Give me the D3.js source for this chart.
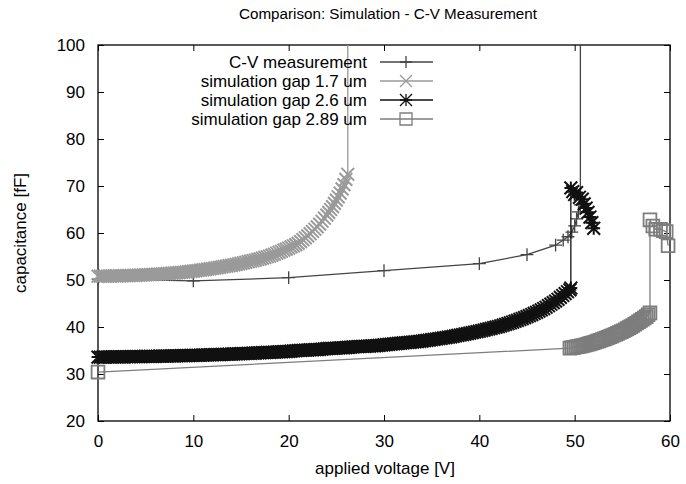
<!DOCTYPE html>
<html>
<head>
<meta charset="utf-8">
<script src="https://cdn.jsdelivr.net/npm/d3@7"></script>
<style>
  body { margin: 0; background: #fff; }
  text { font-family: "Liberation Sans", Arial, Helvetica, sans-serif; fill: #000; }
</style>
</head>
<body>
<svg id="chart"></svg>
<script>
// donnees
const seriesNames = ["C-V measurement", "simulation gap 1.7 um", "simulation gap 2.6 um", "simulation gap 2.89 um"];
const xTicks = [0, 10, 20, 30, 40, 50, 60];
const yTicks = [20, 30, 40, 50, 60, 70, 80, 90, 100];

// mesure C-V (le dernier point sort du cadre)
const voltMeas = [0, 10, 20, 30, 40, 45, 48, 48.8, 49.3, 49.7, 50.0, 50.2, 50.4, 50.6, 50.6];
const capMeas = [50.2, 49.8, 50.5, 52.0, 53.5, 55.4, 57.4, 58.5, 59.2, 60.2, 61.5, 63.0, 64.5, 66.0, 130];

// simulation gap 1.7 um (pas de 0.25 V puis 0.2 V)
const volt17 = [
  0, 0.25, 0.5, 0.75, 1, 1.25, 1.5, 1.75, 2, 2.25, 2.5, 2.75, 3, 3.25, 3.5, 3.75,
  4, 4.25, 4.5, 4.75, 5, 5.25, 5.5, 5.75, 6, 6.25, 6.5, 6.75, 7, 7.25, 7.5, 7.75,
  8, 8.25, 8.5, 8.75, 9, 9.25, 9.5, 9.75, 10, 10.25, 10.5, 10.75, 11, 11.25, 11.5, 11.75,
  12, 12.25, 12.5, 12.75, 13, 13.25, 13.5, 13.75, 14, 14.25, 14.5, 14.75, 15, 15.25, 15.5, 15.75,
  16, 16.25, 16.5, 16.75, 17, 17.25, 17.5, 17.75, 18, 18.25, 18.5, 18.75, 19, 19.25, 19.5, 19.75,
  20, 20.25, 20.5, 20.75, 21, 21.25, 21.5, 21.75, 22, 22.25, 22.5, 22.75, 23, 23.25, 23.5, 23.75,
  24, 24.2, 24.4, 24.6, 24.8, 25.0, 25.2, 25.4, 25.6, 25.8, 26.0, 26.2, 26.2];
const cap17 = [
  50.80, 50.81, 50.81, 50.82, 50.83, 50.84, 50.85, 50.86, 50.87, 50.88, 50.90, 50.91, 50.93, 50.95, 50.96, 50.98,
  51.00, 51.02, 51.04, 51.07, 51.09, 51.12, 51.14, 51.17, 51.20, 51.23, 51.26, 51.30, 51.33, 51.37, 51.40, 51.44,
  51.48, 51.52, 51.56, 51.61, 51.65, 51.71, 51.77, 51.84, 51.90, 51.96, 52.02, 52.09, 52.15, 52.22, 52.30, 52.37,
  52.45, 52.53, 52.61, 52.70, 52.78, 52.87, 52.95, 53.04, 53.13, 53.23, 53.34, 53.44, 53.55, 53.66, 53.77, 53.89,
  54.00, 54.12, 54.25, 54.37, 54.50, 54.65, 54.80, 54.95, 55.10, 55.29, 55.48, 55.69, 55.90, 56.12, 56.35, 56.57,
  56.80, 57.04, 57.28, 57.53, 57.80, 58.18, 58.57, 58.98, 59.40, 59.85, 60.32, 60.80, 61.30, 61.90, 62.50, 63.15,
  63.80, 64.40, 65.00, 65.60, 66.30, 67.00, 67.70, 68.50, 69.40, 70.30, 71.40, 72.50, 130];

// simulation gap 2.6 um (pas de 0.25 V)
const volt26 = [
  0, 0.25, 0.5, 0.75, 1, 1.25, 1.5, 1.75, 2, 2.25, 2.5, 2.75, 3, 3.25, 3.5, 3.75,
  4, 4.25, 4.5, 4.75, 5, 5.25, 5.5, 5.75, 6, 6.25, 6.5, 6.75, 7, 7.25, 7.5, 7.75,
  8, 8.25, 8.5, 8.75, 9, 9.25, 9.5, 9.75, 10, 10.25, 10.5, 10.75, 11, 11.25, 11.5, 11.75,
  12, 12.25, 12.5, 12.75, 13, 13.25, 13.5, 13.75, 14, 14.25, 14.5, 14.75, 15, 15.25, 15.5, 15.75,
  16, 16.25, 16.5, 16.75, 17, 17.25, 17.5, 17.75, 18, 18.25, 18.5, 18.75, 19, 19.25, 19.5, 19.75,
  20, 20.25, 20.5, 20.75, 21, 21.25, 21.5, 21.75, 22, 22.25, 22.5, 22.75, 23, 23.25, 23.5, 23.75,
  24, 24.25, 24.5, 24.75, 25, 25.25, 25.5, 25.75, 26, 26.25, 26.5, 26.75, 27, 27.25, 27.5, 27.75,
  28, 28.25, 28.5, 28.75, 29, 29.25, 29.5, 29.75, 30, 30.25, 30.5, 30.75, 31, 31.25, 31.5, 31.75,
  32, 32.25, 32.5, 32.75, 33, 33.25, 33.5, 33.75, 34, 34.25, 34.5, 34.75, 35, 35.25, 35.5, 35.75,
  36, 36.25, 36.5, 36.75, 37, 37.25, 37.5, 37.75, 38, 38.25, 38.5, 38.75, 39, 39.25, 39.5, 39.75,
  40, 40.25, 40.5, 40.75, 41, 41.25, 41.5, 41.75, 42, 42.25, 42.5, 42.75, 43, 43.25, 43.5, 43.75,
  44, 44.25, 44.5, 44.75, 45, 45.25, 45.5, 45.75, 46, 46.25, 46.5, 46.75, 47, 47.25, 47.5, 47.75,
  48, 48.25, 48.5, 48.75, 49, 49.25, 49.5, 49.6,
  49.6, 49.8, 50.0, 50.2, 50.5, 50.8, 51.0, 51.2, 51.4, 51.6, 51.8, 52.0];
const cap26 = [
  33.60, 33.60, 33.61, 33.61, 33.62, 33.62, 33.63, 33.63, 33.64, 33.65, 33.65, 33.66, 33.67, 33.67, 33.68, 33.69,
  33.70, 33.71, 33.71, 33.72, 33.73, 33.74, 33.75, 33.76, 33.77, 33.78, 33.79, 33.80, 33.81, 33.82, 33.83, 33.84,
  33.86, 33.87, 33.88, 33.89, 33.91, 33.92, 33.93, 33.95, 33.96, 33.98, 33.99, 34.01, 34.02, 34.04, 34.06, 34.07,
  34.09, 34.11, 34.12, 34.14, 34.16, 34.18, 34.20, 34.22, 34.24, 34.26, 34.28, 34.30, 34.32, 34.34, 34.36, 34.39,
  34.41, 34.43, 34.46, 34.48, 34.51, 34.53, 34.56, 34.58, 34.61, 34.63, 34.65, 34.68, 34.70, 34.73, 34.75, 34.78,
  34.80, 34.85, 34.90, 34.95, 35.00, 35.02, 35.05, 35.07, 35.10, 35.13, 35.15, 35.18, 35.20, 35.25, 35.30, 35.35,
  35.40, 35.43, 35.45, 35.48, 35.50, 35.53, 35.55, 35.58, 35.60, 35.65, 35.70, 35.75, 35.80, 35.83, 35.85, 35.88,
  35.90, 35.93, 35.95, 35.98, 36.00, 36.05, 36.10, 36.15, 36.20, 36.25, 36.30, 36.35, 36.40, 36.45, 36.50, 36.55,
  36.60, 36.65, 36.70, 36.75, 36.80, 36.85, 36.90, 36.95, 37.00, 37.08, 37.15, 37.23, 37.30, 37.38, 37.45, 37.53,
  37.60, 37.68, 37.75, 37.83, 37.90, 38.00, 38.10, 38.20, 38.30, 38.40, 38.50, 38.60, 38.70, 38.80, 38.90, 39.00,
  39.10, 39.23, 39.35, 39.48, 39.60, 39.73, 39.85, 39.98, 40.10, 40.25, 40.40, 40.55, 40.70, 40.88, 41.05, 41.23,
  41.40, 41.60, 41.80, 42.00, 42.20, 42.43, 42.65, 42.88, 43.10, 43.38, 43.65, 43.93, 44.20, 44.53, 44.85, 45.18,
  45.50, 45.90, 46.30, 46.70, 47.10, 47.50, 47.90, 48.30,
  69.6, 68.8, 68.2, 68.6, 67.6, 67.2, 66.2, 65.3, 64.4, 63.4, 62.2, 61.0];

// simulation gap 2.89 um (pas de 0.2 V)
const volt289 = [0,
  49.5, 49.7, 49.9, 50.1, 50.3, 50.5, 50.7, 50.9, 51.1, 51.3, 51.5, 51.7, 51.9, 52.1, 52.3, 52.5,
  52.7, 52.9, 53.1, 53.3, 53.5, 53.7, 53.9, 54.1, 54.3, 54.5, 54.7, 54.9, 55.1, 55.3, 55.5, 55.7,
  55.9, 56.1, 56.3, 56.5, 56.7, 56.9, 57.1, 57.3, 57.5, 57.7, 57.9,
  57.9, 58.2, 58.5, 59.0, 59.3, 59.6, 59.8];
const cap289 = [30.4,
  35.50, 35.58, 35.66, 35.74, 35.82, 35.90, 35.98, 36.06, 36.16, 36.28, 36.40, 36.52, 36.64, 36.77, 36.91, 37.05,
  37.19, 37.33, 37.48, 37.64, 37.80, 37.96, 38.12, 38.29, 38.47, 38.65, 38.83, 39.01, 39.21, 39.43, 39.65, 39.87,
  40.09, 40.33, 40.59, 40.85, 41.11, 41.37, 41.64, 41.92, 42.20, 42.60, 43.00,
  62.8, 61.5, 60.8, 60.8, 60.5, 60.3, 57.3];

const allVolt = [voltMeas, volt17, volt26, volt289];
const allCap = [capMeas, cap17, cap26, cap289];
const colors = ["#444", "#9a9a9a", "#111", "#7d7d7d"];
const symbols = ["plus", "cross", "star", "square"];
const markWidth = [1.3, 2, 2, 1.8];

const width = 686, height = 484;
const margin = { top: 45, right: 16, bottom: 63, left: 98 };

const svg = d3.select("#chart").attr("width", width).attr("height", height);

const x = d3.scaleLinear().domain([0, 60]).range([margin.left, width - margin.right]);
const y = d3.scaleLinear().domain([20, 100]).range([height - margin.bottom, margin.top]);

svg.append("clipPath").attr("id", "plotClip")
  .append("rect")
  .attr("x", margin.left).attr("y", margin.top)
  .attr("width", x(60) - x(0)).attr("height", y(20) - y(100));

// forme des symboles (gnuplot)
function symbolPath(type, cx, cy, s) {
  const p = d3.path();
  if (type === "plus" || type === "star") {
    p.moveTo(cx - s, cy); p.lineTo(cx + s, cy);
    p.moveTo(cx, cy - s); p.lineTo(cx, cy + s);
  }
  if (type === "cross" || type === "star") {
    p.moveTo(cx - s, cy - s); p.lineTo(cx + s, cy + s);
    p.moveTo(cx - s, cy + s); p.lineTo(cx + s, cy - s);
  }
  if (type === "square") {
    p.rect(cx - s, cy - s, 2 * s, 2 * s);
  }
  return p.toString();
}

// ticks du cadre (dedans, sur les 4 cotes)
const axisBottom = d3.axisBottom(x).tickValues(xTicks).tickSizeInner(-6).tickSizeOuter(0).tickPadding(14);
const axisLeft = d3.axisLeft(y).tickValues(yTicks).tickSizeInner(-6).tickSizeOuter(0).tickPadding(13);
const axisTop = d3.axisTop(x).tickValues(xTicks).tickSizeInner(-6).tickSizeOuter(0).tickFormat("");
const axisRight = d3.axisRight(y).tickValues(yTicks).tickSizeInner(-6).tickSizeOuter(0).tickFormat("");

const gx = svg.append("g").attr("transform", "translate(0," + y(20) + ")").call(axisBottom);
const gy = svg.append("g").attr("transform", "translate(" + x(0) + ",0)").call(axisLeft);
svg.append("g").attr("transform", "translate(0," + y(100) + ")").call(axisTop);
svg.append("g").attr("transform", "translate(" + x(60) + ",0)").call(axisRight);

svg.selectAll(".domain").remove();
svg.selectAll(".tick line").attr("stroke", "#000").attr("stroke-width", 1);
gx.selectAll("text").attr("font-size", 17).attr("dy", "0.71em");
gy.selectAll("text").attr("font-size", 17);

svg.append("rect")
  .attr("x", x(0)).attr("y", y(100))
  .attr("width", x(60) - x(0)).attr("height", y(20) - y(100))
  .attr("fill", "none").attr("stroke", "#000").attr("stroke-width", 1.3);

// courbes
const line = d3.line().x(d => x(d[0])).y(d => y(d[1]));

allVolt.forEach((volts, i) => {
  const pts = volts.map((v, k) => [v, allCap[i][k]]);
  const g = svg.append("g");
  g.append("path")
    .attr("d", line(pts))
    .attr("clip-path", "url(#plotClip)")
    .attr("fill", "none")
    .attr("stroke", colors[i])
    .attr("stroke-width", 1.3);
  g.selectAll("path.mark")
    .data(pts.filter(d => d[1] <= 100))
    .join("path")
    .attr("class", "mark")
    .attr("d", d => symbolPath(symbols[i], x(d[0]), y(d[1]), 6.4))
    .attr("fill", "none")
    .attr("stroke", colors[i])
    .attr("stroke-width", markWidth[i]);
});

// legende
const legend = svg.append("g");
seriesNames.forEach((name, i) => {
  const ly = 62 + i * 19;
  legend.append("text")
    .attr("x", 367).attr("y", ly)
    .attr("dy", "0.35em")
    .attr("text-anchor", "end")
    .attr("font-size", 17)
    .text(name);
  legend.append("line")
    .attr("x1", 380).attr("x2", 433)
    .attr("y1", ly).attr("y2", ly)
    .attr("stroke", colors[i]).attr("stroke-width", 1.3);
  legend.append("path")
    .attr("d", symbolPath(symbols[i], 406, ly, 6))
    .attr("fill", "none")
    .attr("stroke", colors[i]).attr("stroke-width", 1.3);
});

// titres
svg.append("text")
  .attr("x", 388).attr("y", 19)
  .attr("text-anchor", "middle")
  .attr("font-size", 15.2)
  .text("Comparison: Simulation - C-V Measurement");

svg.append("text")
  .attr("x", 385).attr("y", 474)
  .attr("text-anchor", "middle")
  .attr("font-size", 17)
  .text("applied voltage [V]");

svg.append("text")
  .attr("transform", "translate(26," + y(60) + ") rotate(-90)")
  .attr("text-anchor", "middle")
  .attr("font-size", 17)
  .text("capacitance [fF]");
</script>
</body>
</html>
